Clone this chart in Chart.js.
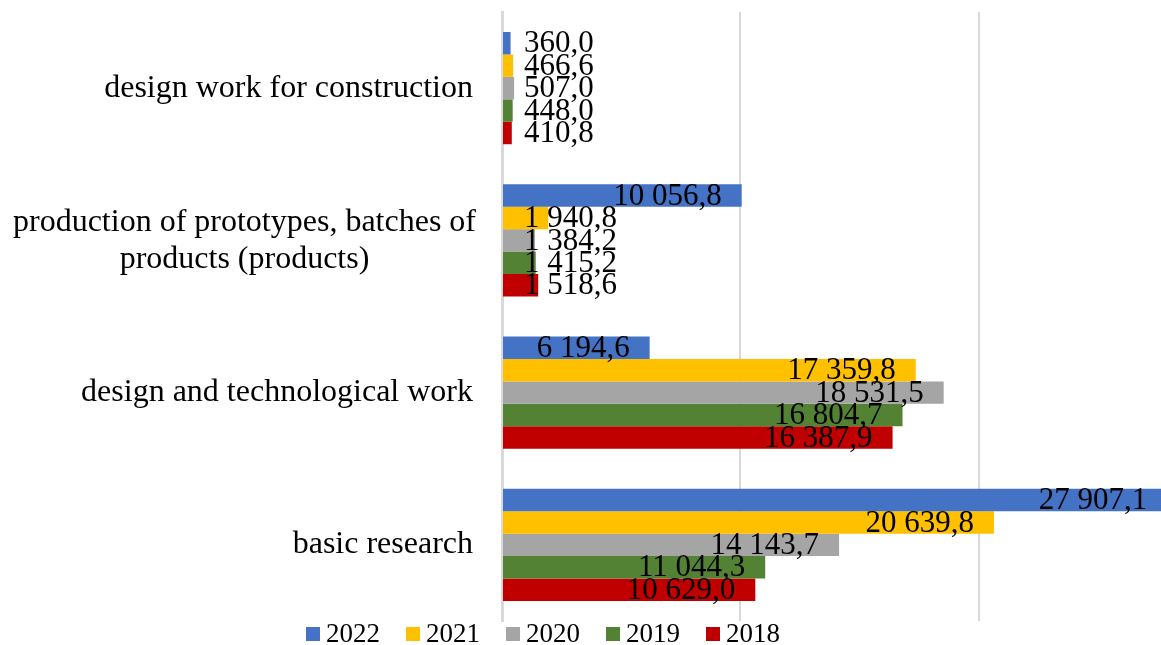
<!DOCTYPE html>
<html>
<head>
<meta charset="utf-8">
<script src="https://cdn.jsdelivr.net/npm/chart.js@4/dist/chart.umd.min.js"></script>
<style>
  html, body { margin: 0; padding: 0; background: #fff; }
  #wrap { width: 1161px; height: 645px; position: relative; }
</style>
</head>
<body>
<div id="wrap"><canvas id="chart"></canvas></div>
<script>
// categories top to bottom
const categories = [
    'design work for construction',
    ['production of prototypes, batches of', 'products (products)'],
    'design and technological work',
    'basic research'
];
const years = ['2022', '2021', '2020', '2019', '2018'];
const values2022 = [360.0, 10056.8, 6194.6, 27907.1];
const values2021 = [466.6, 1940.8, 17359.8, 20639.8];
const values2020 = [507.0, 1384.2, 18531.5, 14143.7];
const values2019 = [448.0, 1415.2, 16804.7, 11044.3];
const values2018 = [410.8, 1518.6, 16387.9, 10629.0];
const gridValues = [0, 10000, 20000];
const colors = ['#4472C4', '#FFC000', '#A5A5A5', '#548235', '#C00000'];

const serif = '"Liberation Serif", "Times New Roman", serif';

// 27 907,1
function fmt(v) {
    const parts = v.toFixed(1).split('.');
    const intPart = parts[0].replace(/\B(?=(\d{3})+(?!\d))/g, ' ');
    return intPart + ',' + parts[1];
}

// labels on the bars + category names + legend
const drawTexts = {
    id: 'drawTexts',
    afterDatasetsDraw(chart) {
        const ctx = chart.ctx;
        const xScale = chart.scales.x;
        const yScale = chart.scales.y;
        const zeroX = xScale.getPixelForValue(0);
        ctx.save();
        ctx.fillStyle = '#000';
        ctx.textBaseline = 'middle';

        // value labels
        ctx.font = '31px ' + serif;
        chart.data.datasets.forEach((ds, i) => {
            const meta = chart.getDatasetMeta(i);
            meta.data.forEach((bar, j) => {
                const txt = fmt(ds.data[j]);
                const w = ctx.measureText(txt).width;
                const left = Math.max(bar.x - 20 - w, zeroX + 22);
                ctx.textAlign = 'left';
                ctx.fillText(txt, left, bar.y + 1);
            });
        });

        // category names
        ctx.font = '32px ' + serif;
        categories.forEach((cat, i) => {
            const y = yScale.getPixelForValue(i);
            const rightX = zeroX - 29;
            if (Array.isArray(cat)) {
                const maxW = Math.max(...cat.map(s => ctx.measureText(s).width));
                const cx = rightX + 3 - maxW / 2;
                const lh = 37;
                ctx.textAlign = 'center';
                cat.forEach((line, k) => {
                    ctx.fillText(line, cx, y + 1 + (k - (cat.length - 1) / 2) * lh);
                });
            } else {
                ctx.textAlign = 'right';
                ctx.fillText(cat, rightX, y);
            }
        });

        // legend
        ctx.font = '27px ' + serif;
        const box = 14, gap = 6, between = 26;
        let total = 0;
        const widths = years.map(t => ctx.measureText(t).width);
        widths.forEach(w => { total += box + gap + w; });
        total += between * (years.length - 1);
        let x = 543 - total / 2;
        const ly = 634;
        years.forEach((t, i) => {
            ctx.fillStyle = colors[i];
            ctx.fillRect(x, ly - box / 2, box, box);
            ctx.fillStyle = '#000';
            ctx.textAlign = 'left';
            ctx.fillText(t, x + box + gap, ly + 1);
            x += box + gap + widths[i] + between;
        });
        ctx.restore();
    }
};

const datasets = [values2022, values2021, values2020, values2019, values2018].map((vals, i) => ({
    label: years[i],
    data: vals,
    backgroundColor: colors[i],
    borderWidth: 0,
    categoryPercentage: 0.737,
    barPercentage: 1.0
}));

new Chart(document.getElementById('chart'), {
    type: 'bar',
    data: {
        labels: categories,
        datasets: datasets
    },
    options: {
        indexAxis: 'y',
        responsive: true,
        maintainAspectRatio: false,
        animation: false,
        layout: { padding: { top: 12, bottom: 24, right: 0, left: 0 } },
        plugins: {
            legend: { display: false },
            tooltip: { enabled: false }
        },
        scales: {
            x: {
                min: 0,
                max: 27650,
                ticks: { display: false },
                border: { display: false },
                grid: {
                    drawTicks: false,
                    lineWidth: 2,
                    color: '#D9D9D9'
                },
                afterBuildTicks(scale) {
                    scale.ticks = gridValues.map(v => ({ value: v }));
                },
                afterFit(scale) { scale.height = 0; }
            },
            y: {
                ticks: { display: false },
                grid: { display: false, drawTicks: false },
                border: { display: true, color: '#D9D9D9', width: 3 },
                afterFit(scale) { scale.width = 502; }
            }
        }
    },
    plugins: [drawTexts]
});
</script>
</body>
</html>
